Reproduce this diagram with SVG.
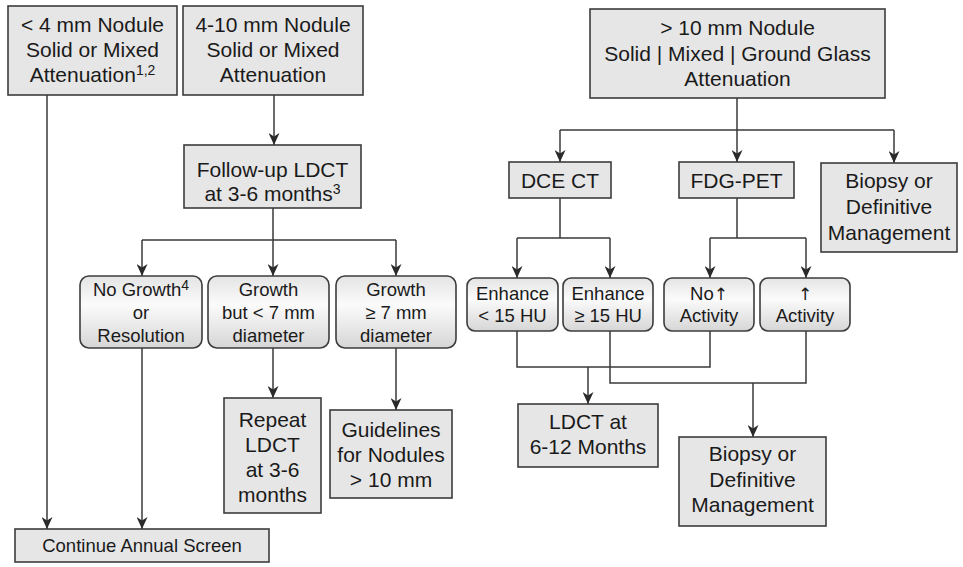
<svg xmlns="http://www.w3.org/2000/svg" width="963" height="567" viewBox="0 0 963 567">
<style>
.box{fill:#e6e6e6;stroke:#3c3c3c;stroke-width:1.6}
.rbox{fill:url(#g);stroke:#3c3c3c;stroke-width:1.6}
.t{font-family:"Liberation Sans",Arial,sans-serif;font-size:21px;fill:#1a1a1a;text-anchor:middle}
.s{font-family:"Liberation Sans",Arial,sans-serif;font-size:18.5px;fill:#1a1a1a;text-anchor:middle}
.sup{font-size:14px}
.ar{font-family:"DejaVu Sans",sans-serif;font-size:17px;fill:#1a1a1a}
.c{fill:none;stroke:#3a3a3a;stroke-width:1.5}
.a{marker-end:url(#arr)}
</style>
<defs>
<linearGradient id="g" x1="0" y1="0" x2="0" y2="1">
<stop offset="0" stop-color="#e4e4e4"/>
<stop offset="0.4" stop-color="#fbfbfb"/>
<stop offset="1" stop-color="#d6d6d6"/>
</linearGradient>
<marker id="arr" markerUnits="userSpaceOnUse" viewBox="0 0 12 11" refX="12" refY="5.5" markerWidth="12" markerHeight="11" orient="auto">
<path d="M0,0 L12,5.5 L0,11 L3.5,5.5 z" fill="#2a2a2a"/>
</marker>
</defs>
<g id="connectors">
<path class="c a" d="M47,95 V529"/>
<path class="c a" d="M274,95 V145"/>
<path class="c" d="M273,208 V240 M142,240 H396"/>
<path class="c a" d="M142,240 V276"/>
<path class="c a" d="M273,240 V276"/>
<path class="c a" d="M396,240 V276"/>
<path class="c a" d="M142,348 V529"/>
<path class="c a" d="M273,348 V398"/>
<path class="c a" d="M396,348 V410"/>
<path class="c" d="M737,98 V130 M560,130 H894"/>
<path class="c a" d="M560,130 V162"/>
<path class="c a" d="M737,130 V162"/>
<path class="c a" d="M894,130 V163"/>
<path class="c" d="M560,198 V238 M517,238 H610"/>
<path class="c a" d="M517,238 V278"/>
<path class="c a" d="M610,238 V278"/>
<path class="c" d="M737,198 V238 M710,238 H806"/>
<path class="c a" d="M710,238 V278"/>
<path class="c a" d="M806,238 V278"/>
<path class="c" d="M517,331 V367 H710 V331"/>
<path class="c a" d="M588,367 V404"/>
<path class="c" d="M610,331 V383 H806 V331"/>
<path class="c a" d="M753,383 V437"/>
</g>
<g id="n-lt4">
<rect class="box" x="8" y="6" width="169" height="89"/>
<text class="t" x="92.5" y="32">&lt; 4 mm Nodule</text>
<text class="t" x="92.5" y="57">Solid or Mixed</text>
<text class="t" x="92.5" y="82">Attenuation<tspan class="sup" dy="-7">1,2</tspan></text>
</g>
<g id="n-4to10">
<rect class="box" x="183" y="6" width="180" height="89"/>
<text class="t" x="273" y="32">4-10 mm Nodule</text>
<text class="t" x="273" y="57">Solid or Mixed</text>
<text class="t" x="273" y="82">Attenuation</text>
</g>
<g id="n-followup">
<rect class="box" x="184" y="145" width="177" height="63"/>
<text class="t" x="272.5" y="177">Follow-up LDCT</text>
<text class="t" x="272.5" y="201">at 3-6 months<tspan class="sup" dy="-7">3</tspan></text>
</g>
<g id="n-nogrowth">
<rect class="rbox" x="80" y="276" width="122" height="72" rx="9"/>
<text class="s" x="141" y="296">No Growth<tspan class="sup" dy="-6">4</tspan></text>
<text class="s" x="141" y="319">or</text>
<text class="s" x="141" y="342">Resolution</text>
</g>
<g id="n-growthlt7">
<rect class="rbox" x="208" y="276" width="121" height="72" rx="9"/>
<text class="s" x="268.5" y="296">Growth</text>
<text class="s" x="268.5" y="319">but &lt; 7 mm</text>
<text class="s" x="268.5" y="342">diameter</text>
</g>
<g id="n-growthge7">
<rect class="rbox" x="336" y="276" width="120" height="72" rx="9"/>
<text class="s" x="396" y="296">Growth</text>
<text class="s" x="396" y="319">≥ 7 mm</text>
<text class="s" x="396" y="342">diameter</text>
</g>
<g id="n-repeat">
<rect class="box" x="224" y="398" width="97" height="115"/>
<text class="t" x="272.5" y="427">Repeat</text>
<text class="t" x="272.5" y="452">LDCT</text>
<text class="t" x="272.5" y="477">at 3-6</text>
<text class="t" x="272.5" y="502">months</text>
</g>
<g id="n-guidelines">
<rect class="box" x="330" y="410" width="122" height="88"/>
<text class="t" x="391" y="437">Guidelines</text>
<text class="t" x="391" y="462">for Nodules</text>
<text class="t" x="391" y="487">&gt; 10 mm</text>
</g>
<g id="n-continue">
<rect class="box" x="15" y="529" width="254" height="33"/>
<text class="s" x="142" y="552">Continue Annual Screen</text>
</g>
<g id="n-gt10">
<rect class="box" x="590" y="9" width="295" height="89"/>
<text class="t" x="737.5" y="35">&gt; 10 mm Nodule</text>
<text class="t" x="737.5" y="61">Solid | Mixed | Ground Glass</text>
<text class="t" x="737.5" y="86">Attenuation</text>
</g>
<g id="n-dcect">
<rect class="box" x="509" y="162" width="102" height="36"/>
<text class="t" x="560" y="188">DCE CT</text>
</g>
<g id="n-fdgpet">
<rect class="box" x="679" y="162" width="115" height="36"/>
<text class="t" x="736.5" y="188">FDG-PET</text>
</g>
<g id="n-biopsy1">
<rect class="box" x="821" y="163" width="136" height="89"/>
<text class="t" x="889" y="188">Biopsy or</text>
<text class="t" x="889" y="214">Definitive</text>
<text class="t" x="889" y="240">Management</text>
</g>
<g id="n-enhlt15">
<rect class="rbox" x="467" y="278" width="91" height="53" rx="8"/>
<text class="s" x="512.5" y="300">Enhance</text>
<text class="s" x="512.5" y="322">&lt; 15 HU</text>
</g>
<g id="n-enhge15">
<rect class="rbox" x="563" y="278" width="90" height="53" rx="8"/>
<text class="s" x="608" y="300">Enhance</text>
<text class="s" x="608" y="322">≥ 15 HU</text>
</g>
<g id="n-noact">
<rect class="rbox" x="664" y="278" width="90" height="53" rx="8"/>
<text class="s" x="709" y="300">No<tspan class="ar">↑</tspan></text>
<text class="s" x="709" y="322">Activity</text>
</g>
<g id="n-act">
<rect class="rbox" x="760" y="278" width="90" height="53" rx="8"/>
<text class="s" x="805" y="300"><tspan class="ar">↑</tspan></text>
<text class="s" x="805" y="322">Activity</text>
</g>
<g id="n-ldct612">
<rect class="box" x="518" y="404" width="140" height="63"/>
<text class="t" x="588" y="429">LDCT at</text>
<text class="t" x="588" y="454">6-12 Months</text>
</g>
<g id="n-biopsy2">
<rect class="box" x="679" y="437" width="147" height="89"/>
<text class="t" x="752.5" y="461">Biopsy or</text>
<text class="t" x="752.5" y="487">Definitive</text>
<text class="t" x="752.5" y="512">Management</text>
</g>
</svg>
